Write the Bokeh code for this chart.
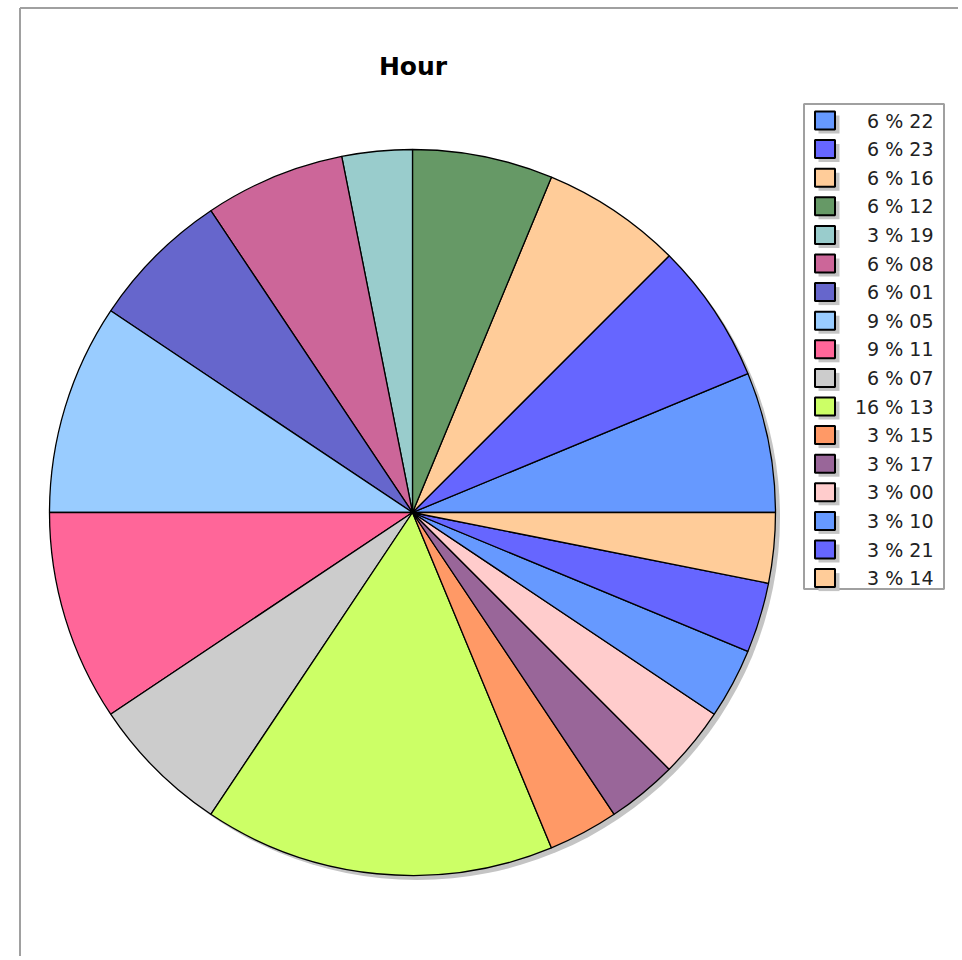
import numpy as np
from bokeh.plotting import figure
from bokeh.models import Range1d, ColumnDataSource
from bokeh.embed import file_html
from bokeh.resources import INLINE
from bokeh.core.properties import value

# ---- data ----
title = "Hour"
hours = ["22", "23", "16", "12", "19", "08", "01", "05", "11",
         "07", "13", "15", "17", "00", "10", "21", "14"]
counts = [2, 2, 2, 2, 1, 2, 2, 3, 3, 2, 5, 1, 1, 1, 1, 1, 1]
colors = ["#6699FF", "#6666FF", "#FFCC99", "#669966", "#99CCCC", "#CC6699",
          "#6666CC", "#99CCFF", "#FF6699", "#CCCCCC", "#CCFF66", "#FF9966",
          "#996699", "#FFCCCC", "#6699FF", "#6666FF", "#FFCC99"]

# ---- layout (pixel-like data space) ----
W, H = 958, 956
IMG_H = 960


def Y(img_y):
    return IMG_H - img_y


p = figure(width=W, height=H, x_range=Range1d(0, W),
           y_range=Range1d(IMG_H - H, IMG_H),
           output_backend="svg", toolbar_location=None, min_border=0)
p.axis.visible = False
p.grid.visible = False
p.outline_line_color = None
p.background_fill_color = "white"
p.border_fill_color = "white"

# chart frame (top and left gray lines)
p.line(x=[19.5, W], y=[Y(7.5), Y(7.5)], line_color="#A0A0A0", line_width=2)
p.line(x=[19.5, 19.5], y=[Y(7.5), Y(H)], line_color="#A0A0A0", line_width=2)

# ---- pie ----
cx, cy, r = 412, Y(512), 363
total = float(sum(counts))
fr = np.array(counts) / total
ends = np.cumsum(fr) * 2 * np.pi
starts = np.concatenate([[0.0], ends[:-1]])
pct = [int(round(c / total * 100)) for c in counts]
labels = [f"{v} % {h}" for v, h in zip(pct, hours)]

src = ColumnDataSource(dict(start=starts, end=ends, color=colors, label=labels))

# shadow
p.circle(x=cx + 4.5, y=cy - 4.5, radius=r, fill_color="#C4C4C4", line_color=None)
p.wedge(x=cx, y=cy, radius=r, start_angle="start", end_angle="end",
        fill_color="color", line_color="black", line_width=1.3, source=src)

# title
p.text(x=[412.5], y=[Y(66)], text=[title], text_align="center",
       text_baseline="middle", text_font=value("DejaVu Sans"),
       text_font_style="bold", text_font_size="25px", text_color="black")

# ---- legend ----
p.quad(left=803.5, right=943.5, top=Y(103.5), bottom=Y(588.5),
       fill_color="white", line_color="#A0A0A0", line_width=2)
n = len(labels)
ly = [Y(120 + i * 28.6) for i in range(n)]
lsrc = ColumnDataSource(dict(y=ly, top=[v + 9 for v in ly], bot=[v - 9 for v in ly],
                             top_s=[v + 5 for v in ly], bot_s=[v - 13 for v in ly],
                             color=colors, label=labels))
p.quad(left=818, right=839, top="top_s", bottom="bot_s", fill_color="#C4C4C4",
       line_color=None, source=lsrc)
p.quad(left=814.5, right=834.5, top="top", bottom="bot", fill_color="color",
       line_color="black", line_width=2, source=lsrc)
p.text(x=933, y="y", text="label", text_align="right", text_baseline="middle",
       text_font=value("DejaVu Sans"), text_font_size="19px",
       text_color="#222222", source=lsrc)

open("out.html", "w").write(file_html(p, INLINE))
